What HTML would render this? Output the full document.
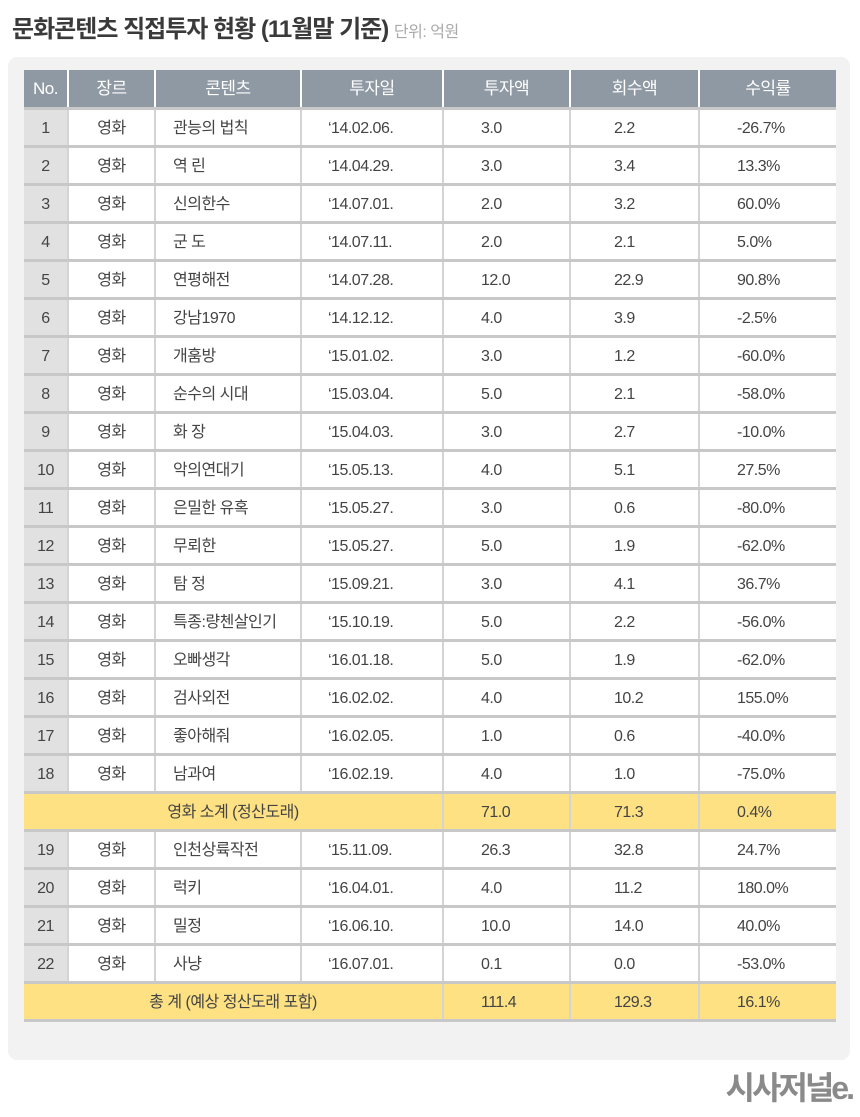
<!DOCTYPE html>
<html><head><meta charset="utf-8"><style>
*{margin:0;padding:0;box-sizing:border-box}
body{width:860px;height:1117px;background:#fff;position:relative;font-family:"Liberation Sans","Noto Sans CJK KR",sans-serif;color:#444;overflow:hidden}
.title{position:absolute;left:12px;top:14px;font-size:24px;line-height:32px;font-weight:bold;color:#3a3a3a;letter-spacing:-1px;white-space:nowrap}
.title span{font-size:16px;font-weight:normal;color:#aaa;letter-spacing:-0.5px}
.panel{position:absolute;left:8px;top:57px;width:842px;height:1003px;background:#f2f2f2;border-radius:9px}
table{position:absolute;left:24px;top:70px;border-collapse:collapse;table-layout:fixed;width:812px;font-size:16px;line-height:20px;letter-spacing:-0.5px}
td,th{height:38px;border-bottom:3px solid #c8c8c8;border-left:2px solid #d4d4d4;background:#fff;white-space:nowrap;padding:4px 0 0 0;font-weight:normal;vertical-align:middle;line-height:20px}
th{background:#8e99a3;color:#fff;font-size:17px;border-left:2px solid #fff;border-bottom:3px solid #c8c8c8;text-align:center;padding-top:2px}
tr td:first-child,tr th:first-child{border-left:none}
td:first-child{background:#e1e1e1;text-align:center}
td:nth-child(2){text-align:center}
td:nth-child(3){padding-left:17px}
td:nth-child(4){padding-left:26px}
td:nth-child(5){padding-left:37px}
td:nth-child(6){padding-left:43px}
td:nth-child(7){padding-left:37px}
tr.y td{background:#fde183;border-left:2px solid #d4d4d4}
tr.y td:first-child{text-align:center;padding-left:0;border-left:none}
tr.y td.a{padding-left:37px;text-align:left}
tr.y td.b{padding-left:43px;text-align:left}
tr.y td.c{padding-left:37px;text-align:left}
.logo{position:absolute;right:8px;top:1068px;font-size:32px;font-weight:bold;color:#8a8a8a;letter-spacing:-3px;line-height:40px}
</style></head><body>
<div class="title">문화콘텐츠 직접투자 현황 (11월말 기준) <span>단위: 억원</span></div>
<div class="panel"></div>
<table>
<colgroup><col style="width:44px"><col style="width:87px"><col style="width:146px"><col style="width:142px"><col style="width:127px"><col style="width:129px"><col style="width:137px"></colgroup>
<tr><th>No.</th><th>장르</th><th>콘텐츠</th><th>투자일</th><th>투자액</th><th>회수액</th><th>수익률</th></tr>
<tr><td>1</td><td>영화</td><td>관능의 법칙</td><td>‘14.02.06.</td><td>3.0</td><td>2.2</td><td>-26.7%</td></tr>
<tr><td>2</td><td>영화</td><td>역 린</td><td>‘14.04.29.</td><td>3.0</td><td>3.4</td><td>13.3%</td></tr>
<tr><td>3</td><td>영화</td><td>신의한수</td><td>‘14.07.01.</td><td>2.0</td><td>3.2</td><td>60.0%</td></tr>
<tr><td>4</td><td>영화</td><td>군 도</td><td>‘14.07.11.</td><td>2.0</td><td>2.1</td><td>5.0%</td></tr>
<tr><td>5</td><td>영화</td><td>연평해전</td><td>‘14.07.28.</td><td>12.0</td><td>22.9</td><td>90.8%</td></tr>
<tr><td>6</td><td>영화</td><td>강남1970</td><td>‘14.12.12.</td><td>4.0</td><td>3.9</td><td>-2.5%</td></tr>
<tr><td>7</td><td>영화</td><td>개훔방</td><td>‘15.01.02.</td><td>3.0</td><td>1.2</td><td>-60.0%</td></tr>
<tr><td>8</td><td>영화</td><td>순수의 시대</td><td>‘15.03.04.</td><td>5.0</td><td>2.1</td><td>-58.0%</td></tr>
<tr><td>9</td><td>영화</td><td>화 장</td><td>‘15.04.03.</td><td>3.0</td><td>2.7</td><td>-10.0%</td></tr>
<tr><td>10</td><td>영화</td><td>악의연대기</td><td>‘15.05.13.</td><td>4.0</td><td>5.1</td><td>27.5%</td></tr>
<tr><td>11</td><td>영화</td><td>은밀한 유혹</td><td>‘15.05.27.</td><td>3.0</td><td>0.6</td><td>-80.0%</td></tr>
<tr><td>12</td><td>영화</td><td>무뢰한</td><td>‘15.05.27.</td><td>5.0</td><td>1.9</td><td>-62.0%</td></tr>
<tr><td>13</td><td>영화</td><td>탐 정</td><td>‘15.09.21.</td><td>3.0</td><td>4.1</td><td>36.7%</td></tr>
<tr><td>14</td><td>영화</td><td>특종:량첸살인기</td><td>‘15.10.19.</td><td>5.0</td><td>2.2</td><td>-56.0%</td></tr>
<tr><td>15</td><td>영화</td><td>오빠생각</td><td>‘16.01.18.</td><td>5.0</td><td>1.9</td><td>-62.0%</td></tr>
<tr><td>16</td><td>영화</td><td>검사외전</td><td>‘16.02.02.</td><td>4.0</td><td>10.2</td><td>155.0%</td></tr>
<tr><td>17</td><td>영화</td><td>좋아해줘</td><td>‘16.02.05.</td><td>1.0</td><td>0.6</td><td>-40.0%</td></tr>
<tr><td>18</td><td>영화</td><td>남과여</td><td>‘16.02.19.</td><td>4.0</td><td>1.0</td><td>-75.0%</td></tr>
<tr class="y"><td colspan="4">영화 소계 (정산도래)</td><td class="a">71.0</td><td class="b">71.3</td><td class="c">0.4%</td></tr>
<tr><td>19</td><td>영화</td><td>인천상륙작전</td><td>‘15.11.09.</td><td>26.3</td><td>32.8</td><td>24.7%</td></tr>
<tr><td>20</td><td>영화</td><td>럭키</td><td>‘16.04.01.</td><td>4.0</td><td>11.2</td><td>180.0%</td></tr>
<tr><td>21</td><td>영화</td><td>밀정</td><td>‘16.06.10.</td><td>10.0</td><td>14.0</td><td>40.0%</td></tr>
<tr><td>22</td><td>영화</td><td>사냥</td><td>‘16.07.01.</td><td>0.1</td><td>0.0</td><td>-53.0%</td></tr>
<tr class="y"><td colspan="4">총 계 (예상 정산도래 포함)</td><td class="a">111.4</td><td class="b">129.3</td><td class="c">16.1%</td></tr>
</table>
<div class="logo">시사저널e.</div>
</body></html>
